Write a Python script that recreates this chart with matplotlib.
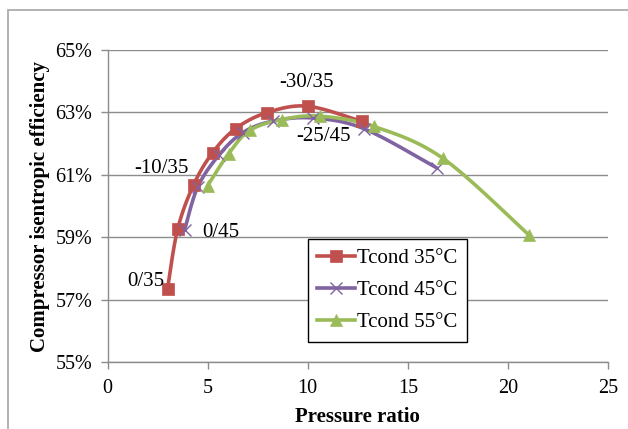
import numpy as np
import matplotlib
matplotlib.use("Agg")
import matplotlib.pyplot as plt
from matplotlib.patches import Rectangle
from matplotlib.ticker import FuncFormatter

# ---- data ----
x35 = [3.0, 3.5, 4.3, 5.25, 6.4, 7.95, 10.0, 12.7]
y35 = [57.35, 59.25, 60.68, 61.71, 62.48, 62.99, 63.2, 62.71]
x45 = [3.85, 4.5, 5.55, 6.75, 8.25, 10.25, 12.8, 16.45]
y45 = [59.23, 60.6, 61.62, 62.35, 62.72, 62.82, 62.48, 61.22]
x55 = [5.0, 6.05, 7.1, 8.7, 10.6, 13.3, 16.75, 21.05]
y55 = [60.65, 61.68, 62.42, 62.77, 62.88, 62.55, 61.53, 59.07]
series_names = ["Tcond 35\u00b0C", "Tcond 45\u00b0C", "Tcond 55\u00b0C"]
point_labels = ["0/35", "-10/35", "-30/35", "0/45", "-25/45"]
x_ticks = [0, 5, 10, 15, 20, 25]
y_ticks = [55, 57, 59, 61, 63, 65]
x_label = "Pressure ratio"
y_label = "Compressor isentropic efficiency"

W, H, DPI = 628, 429, 100
plt.rcParams['font.family'] = ['Liberation Serif', 'DejaVu Serif']
fig = plt.figure(figsize=(W / DPI, H / DPI), dpi=DPI)
L, R, T, B = 107.5, 608, 50, 362
ax = fig.add_axes([L / W, 1 - B / H, (R - L) / W, (B - T) / H])
ax.set_xlim(0, 25)
ax.set_ylim(55, 65)

# outer chart frame
fig.add_artist(Rectangle((8 / W, -0.2), 1.2, 1 - 10 / H + 0.2, transform=fig.transFigure,
                         fill=False, edgecolor='#A6A6A6', lw=1.2, zorder=0))

def smooth(xs, ys, n=30):
    # Excel-like Bezier smoothing done in display-proportional space
    sx = (R - L) / 25.0
    sy = (B - T) / 10.0
    P = np.column_stack([np.array(xs) * sx, np.array(ys) * sy])
    out = []
    m = len(P)
    for i in range(m - 1):
        p0 = P[i - 1] if i > 0 else P[i]
        p1 = P[i]
        p2 = P[i + 1]
        p3 = P[i + 2] if i + 2 < m else P[i + 1]
        c1 = p1 + (p2 - p0) / 6.0
        c2 = p2 - (p3 - p1) / 6.0
        t = np.linspace(0, 1, n)[:, None]
        seg = ((1 - t) ** 3) * p1 + 3 * ((1 - t) ** 2) * t * c1 + 3 * (1 - t) * t ** 2 * c2 + t ** 3 * p2
        out.append(seg if i == 0 else seg[1:])
    S = np.vstack(out)
    return S[:, 0] / sx, S[:, 1] / sy

colors = ['#C0504D', '#8064A2', '#9BBB59']
markers = ['s', 'x', '^']
msizes = [8.5, 8, 9]
data = [(x35, y35), (x45, y45), (x55, y55)]
handles = []
for (xs, ys), c, mk, ms, name in zip(data, colors, markers, msizes, series_names):
    sxv, syv = smooth(xs, ys)
    ax.plot(sxv, syv, color=c, lw=2.6, zorder=3, solid_capstyle='round')
    ax.plot(xs, ys, linestyle='none', marker=mk, markersize=ms, color=c,
            markeredgewidth=(1.0 if mk == 'x' else 0.5), zorder=4)
    h, = ax.plot([], [], color=c, lw=2.6, marker=mk, markersize=ms,
                 markeredgewidth=(1.0 if mk == 'x' else 0.5), label=name)
    handles.append(h)

# point labels
anchors = [(x35[0], y35[0]), (x35[2], y35[2]), (x35[6], y35[6]), (x45[0], y45[0]), (x45[5], y45[5])]
offsets = [(-22, 7), (-32, 16), (-1, 24), (36, -2), (11, -18)]
for lab, (ax_, ay_), off in zip(point_labels, anchors, offsets):
    ax.annotate(lab, (ax_, ay_), xytext=off, textcoords='offset pixels',
                ha='center', va='center', fontsize=15, color='black', zorder=5)

ax.set_xticks(x_ticks)
ax.set_yticks(y_ticks)
ax.yaxis.set_major_formatter(FuncFormatter(lambda v, p: f"{v:.0f}%"))
ax.grid(axis='y', color='#8C8C8C', lw=1.0)
ax.set_axisbelow(True)
for s in ['top', 'right']:
    ax.spines[s].set_visible(False)
for s in ['left', 'bottom']:
    ax.spines[s].set_color('#8C8C8C')
    ax.spines[s].set_linewidth(1.0)
ax.tick_params(axis='both', direction='out', length=5, width=1, color='#8C8C8C',
               labelsize=14.5, labelcolor='black')
ax.tick_params(axis='y', pad=6)
ax.tick_params(axis='x', pad=7)
ax.set_xlabel(x_label, fontsize=15, fontweight='bold', labelpad=7)
ax.set_ylabel(y_label, fontsize=15, fontweight='bold', labelpad=4)

leg = ax.legend(handles=handles, loc='upper left', bbox_to_anchor=((308 - L) / (R - L), (B - 239) / (B - T)),
                fontsize=15, frameon=True, fancybox=False, edgecolor='black', framealpha=1,
                handlelength=1.8, handletextpad=0.12, labelspacing=0.6, borderpad=0.45,
                borderaxespad=0)
leg.get_frame().set_linewidth(1.0)

fig.savefig('out.png', dpi=DPI)
